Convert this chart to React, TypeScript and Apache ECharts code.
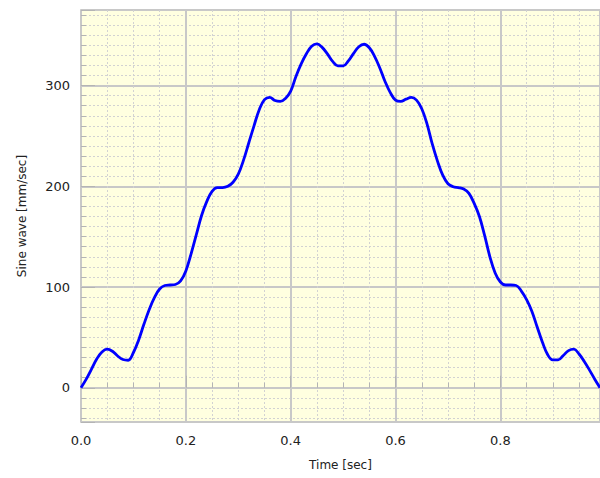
import React, { useEffect, useRef } from "react";
import * as echarts from "echarts";

const times: number[] = [
  0.0, 0.01, 0.02, 0.03, 0.04, 0.05, 0.06, 0.07, 0.08, 0.09,
  0.1, 0.11, 0.12, 0.13, 0.14, 0.15, 0.16, 0.17, 0.18, 0.19,
  0.2, 0.21, 0.22, 0.23, 0.24, 0.25, 0.26, 0.27, 0.28, 0.29,
  0.3, 0.31, 0.32, 0.33, 0.34, 0.35, 0.36, 0.37, 0.38, 0.39,
  0.4, 0.41, 0.42, 0.43, 0.44, 0.45, 0.46, 0.47, 0.48, 0.49,
  0.5, 0.51, 0.52, 0.53, 0.54, 0.55, 0.56, 0.57, 0.58, 0.59,
  0.6, 0.61, 0.62, 0.63, 0.64, 0.65, 0.66, 0.67, 0.68, 0.69,
  0.7, 0.71, 0.72, 0.73, 0.74, 0.75, 0.76, 0.77, 0.78, 0.79,
  0.8, 0.81, 0.82, 0.83, 0.84, 0.85, 0.86, 0.87, 0.88, 0.89,
  0.9, 0.91, 0.92, 0.93, 0.94, 0.95, 0.96, 0.97, 0.98, 0.99,
];

const sineWave: number[] = [
  0, 8.5, 18.5, 28.5, 35.5, 38.3, 36.2, 31.5, 28, 27.3,
  35, 47.5, 63, 77.5, 89.5, 98, 101.5, 102, 102.5, 106,
  116, 133, 152, 171, 185, 195, 198.7, 198.7, 200, 204,
  212, 226, 243, 260, 276, 286, 288.3, 285.1, 284.2, 287.2,
  294.5, 309, 321.5, 331.5, 339, 341.3, 337.9, 331.5, 324, 319.5,
  319.5, 324.5, 332, 338.5, 341, 337.5, 329, 317.5, 304, 293,
  285.5, 284.3, 286.5, 288.2, 285.5, 277, 262, 242, 225, 211,
  202.5, 199.5, 198.7, 197.3, 193, 183, 170, 151, 130, 114,
  105, 102, 102, 101.5, 96, 87.5, 76, 60.5, 45.5, 33,
  27.7, 27.7, 32, 36.9, 38.3, 33.5, 26, 17.5, 8.5, 0,
];

const xTitle = "Time [sec]";
const yTitle = "Sine wave [mm/sec]";

const FONT = "DejaVu Sans";

export default function App() {
  const ref = useRef<HTMLDivElement>(null);
  useEffect(() => {
    if (!ref.current) return;
    const chart = echarts.init(ref.current, undefined, { renderer: "svg" });
    const data = times.map((t, i) => [t, sineWave[i]]);
    chart.setOption({
      animation: false,
      backgroundColor: "#ffffff",
      grid: {
        left: 81,
        right: 0,
        top: 10,
        bottom: 56,
        show: true,
        backgroundColor: "#ffffe0",
        borderWidth: 0,
      },
      xAxis: {
        type: "value",
        min: 0,
        max: 0.99,
        minInterval: 0.2,
        maxInterval: 0.2,
        name: xTitle,
        nameLocation: "middle",
        nameGap: 37,
        nameTextStyle: { fontFamily: FONT, fontSize: 12, color: "#222" },
        axisLine: { show: true, lineStyle: { color: "#c8c8c8", width: 2 } },
        axisTick: { show: true, inside: true, length: 12, lineStyle: { color: "#b4b4b4", width: 1 } },
        minorTick: { show: true, splitNumber: 4, length: 5, lineStyle: { color: "#b4b4b4" } },
        axisLabel: {
          fontFamily: FONT,
          fontSize: 13,
          color: "#222",
          margin: 12,
          showMaxLabel: false,
          formatter: (v: number) => v.toFixed(1),
        },
        splitLine: { show: true, lineStyle: { color: "#c8c8c8", width: 2 } },
        minorSplitLine: { show: true, lineStyle: { color: "#d2d2d2", width: 1, type: [2, 2] } },
      },
      yAxis: {
        type: "value",
        min: -34,
        max: 375,
        minInterval: 100,
        maxInterval: 100,
        name: yTitle,
        nameLocation: "middle",
        nameGap: 53,
        nameTextStyle: { fontFamily: FONT, fontSize: 12, color: "#222" },
        axisLine: { show: true, lineStyle: { color: "#c8c8c8", width: 2 } },
        axisTick: { show: true, inside: true, length: 14, lineStyle: { color: "#b4b4b4", width: 1 } },
        minorTick: { show: true, splitNumber: 10, length: 5, lineStyle: { color: "#b4b4b4" } },
        axisLabel: {
          fontFamily: FONT,
          fontSize: 13,
          color: "#222",
          margin: 11,
          showMinLabel: false,
          showMaxLabel: false,
          formatter: (v: number) => (Math.abs(v % 100) < 1e-6 ? String(v) : ""),
        },
        splitLine: { show: true, lineStyle: { color: "#c8c8c8", width: 2 } },
        minorSplitLine: { show: true, lineStyle: { color: "#d2d2d2", width: 1, type: [2, 2] } },
      },
      series: [
        {
          type: "line",
          data,
          smooth: 0.4,
          showSymbol: false,
          symbol: "none",
          lineStyle: { color: "#0000ff", width: 2.8 },
        },
      ],
    });
    return () => chart.dispose();
  }, []);
  return (
    <div
      ref={ref}
      style={{ position: "fixed", left: 0, top: 0, width: 600, height: 478 }}
    />
  );
}
